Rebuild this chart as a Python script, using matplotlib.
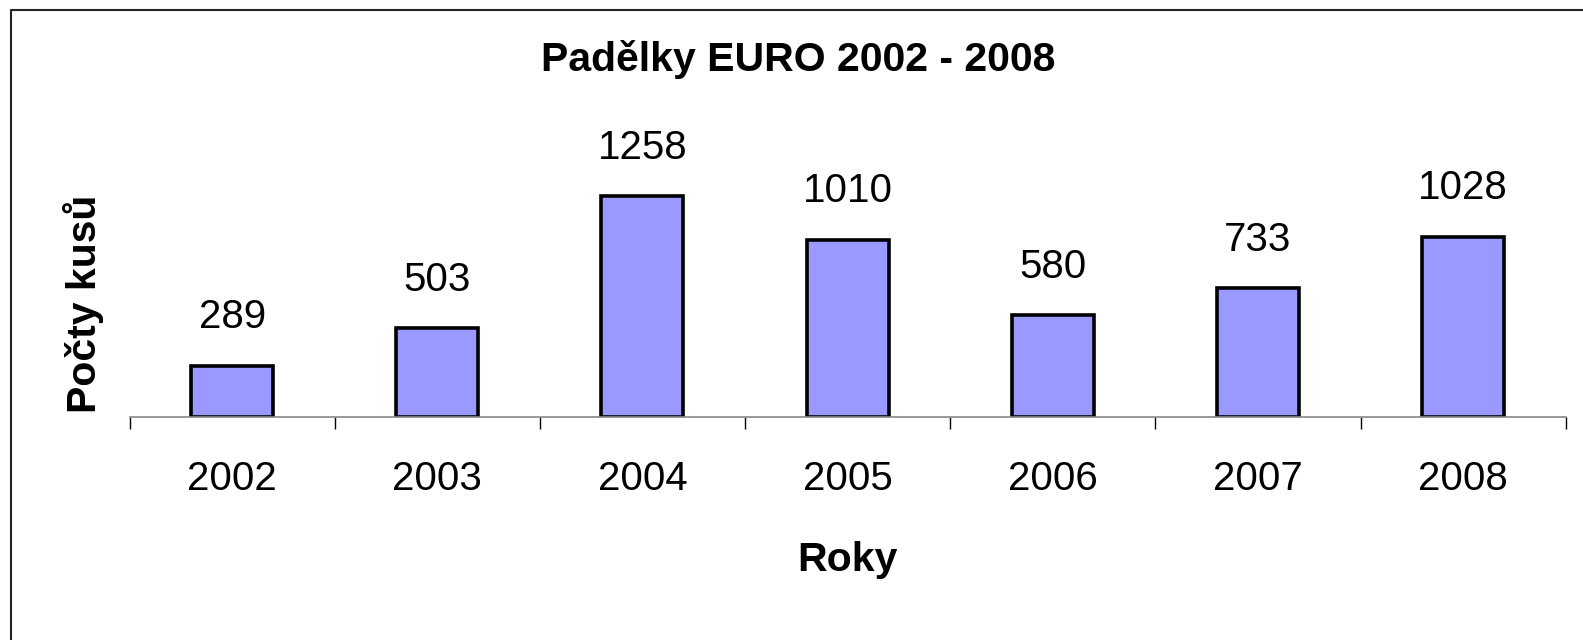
import numpy as np
import matplotlib.pyplot as plt
from matplotlib.lines import Line2D

years = ["2002", "2003", "2004", "2005", "2006", "2007", "2008"]
counts = [289, 503, 1258, 1010, 580, 733, 1028]

W, H = 1583, 640
plt.rcParams["font.family"] = ["Liberation Sans", "DejaVu Sans"]

fig = plt.figure(figsize=(W / 100, H / 100), dpi=100)


def fx(px):
    return px / W


def fy(py):
    return 1 - py / H


# chart border: only the top and left edges fall inside the picture
fig.lines.append(Line2D([fx(10.5), fx(10.5), 1.0], [0.0, fy(9.5), fy(9.5)],
                        transform=fig.transFigure, color="#222222",
                        linewidth=1.5))

ax = fig.add_axes([fx(129.5), fy(416.5), fx(1565.7) - fx(129.5), 245 / H])
x = np.arange(len(years))
ax.bar(x, counts, width=0.40, color="#9999FF", edgecolor="black", linewidth=2.6)
ax.set_xlim(-0.5, len(years) - 0.5)
ax.set_ylim(0, 1400)

for xi, c in zip(x, counts):
    ax.annotate(str(c), (xi, c), xytext=(0, 27), textcoords="offset points",
                ha="center", va="baseline", fontsize=29)

for s in ["top", "right", "left"]:
    ax.spines[s].set_visible(False)
ax.spines["bottom"].set_color("#888888")
ax.spines["bottom"].set_linewidth(1.2)
ax.set_yticks([])

ax.set_xticks(x)
ax.set_xticklabels(years, fontsize=29)
ax.tick_params(axis="x", which="major", length=0, pad=31.5)
ax.set_xticks(np.arange(len(years) + 1) - 0.5, minor=True)
ax.tick_params(axis="x", which="minor", length=8.6, width=1.0, color="black",
               direction="out")

fig.text(fx(798), fy(70.7), "Padělky EURO 2002 - 2008", ha="center",
         va="baseline", fontsize=29.5, fontweight="bold")
fig.text(fx(847), fy(570.7), "Roky", ha="center", va="baseline",
         fontsize=29.5, fontweight="bold")
fig.text(fx(95.7), fy(304), "Počty kusů", rotation=90, rotation_mode="anchor",
         ha="center", va="baseline", fontsize=29.5, fontweight="bold")

plt.savefig("out.png", dpi=100)
